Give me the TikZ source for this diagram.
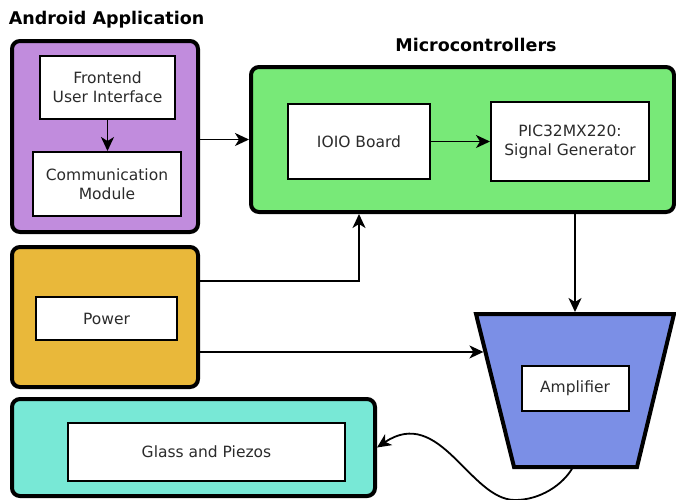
\documentclass[tikz,border=0pt]{standalone}
\usepackage{fontspec}
\setmainfont{DejaVu Sans}
\usetikzlibrary{arrows.meta, calc}
\definecolor{appcol}{HTML}{C18CDD}
\definecolor{mccol}{HTML}{78E978}
\definecolor{powcol}{HTML}{E9B83A}
\definecolor{glasscol}{HTML}{78E8D6}
\definecolor{ampcol}{HTML}{7B8FE6}
\definecolor{textgray}{HTML}{2B2B2B}
\tikzset{>={Stealth[length=14pt,width=13pt,inset=4pt]},
  group/.style={draw, line width=4pt, rounded corners=8pt, inner sep=0pt},
  block/.style={draw, fill=white, line width=2pt, inner sep=0pt, align=center,
    text=textgray, font=\fontsize{15.5}{19}\selectfont},
  heading/.style={font=\fontsize{17.5}{21}\selectfont\bfseries},
  wire/.style={->, line width=1.8pt}}

\begin{document}
\begin{tikzpicture}[x=1pt, y=-1pt]
\useasboundingbox (0,0) rectangle (676,499);
% android app
\node[heading] (apptitle) at (106.5,20) {Android Application};
\node[group, fill=appcol, minimum width=186pt, minimum height=191pt] (app) at (105,136.5) {};
\node[block, minimum width=135pt, minimum height=63pt] (front) at (107.5,87.5) {Frontend\\User Interface};
\node[block, minimum width=148pt, minimum height=64pt] (comm) at (107,184) {Communication\\Module};
% microcontrollers
\node[heading] (mctitle) at (476,45) {Microcontrollers};
\node[group, fill=mccol, minimum width=423pt, minimum height=145pt] (mc) at (462.5,139.5) {};
\node[block, minimum width=142pt, minimum height=75pt] (ioio) at (359,141.5) {IOIO Board};
\node[block, minimum width=158pt, minimum height=79pt] (pic) at (570,141.5) {PIC32MX220:\\Signal Generator};
% power
\node[group, fill=powcol, minimum width=186pt, minimum height=140pt] (pow) at (105,317) {};
\node[block, minimum width=141pt, minimum height=43pt] (power) at (106.5,318.5) {Power};
% glass
\node[group, fill=glasscol, minimum width=363pt, minimum height=97pt] (glass) at (193.5,447.5) {};
\node[block, minimum width=277pt, minimum height=58pt] (piezo) at (206.5,452) {Glass and Piezos};
% amplifier
\draw[fill=ampcol, line width=4pt, line join=miter] (476,314) coordinate (ampTL) -- (674,314) coordinate (ampTR)
  -- (637,467) coordinate (ampBR) -- (514,467) coordinate (ampBL) -- cycle;
\node[block, minimum width=107pt, minimum height=45pt] (amp) at (575,388.5) {Amplifier};

\draw[wire] (front) -- (front |- comm.north);
\draw[wire] (app.east |- mc.west) -- (mc.west);
\draw[wire] (ioio) -- (pic);
\draw[wire, shorten >=2pt] (mc.south -| amp) -- ($(ampTL)!0.5!(ampTR)$);
\draw[wire] ([yshift=36pt]pow.east) -| (ioio |- mc.south);
\draw[wire, shorten >=2pt] ([yshift=-35pt]pow.east) -- ($(ampTL)!0.248!(ampBL)$);
\draw[wire] ($(ampBL)!0.48!(ampBR)$) .. controls (563,485) and (540,500) .. (515,500)
  .. controls (470,500) and (440,405) .. (glass.east);
\end{tikzpicture}
\end{document}
